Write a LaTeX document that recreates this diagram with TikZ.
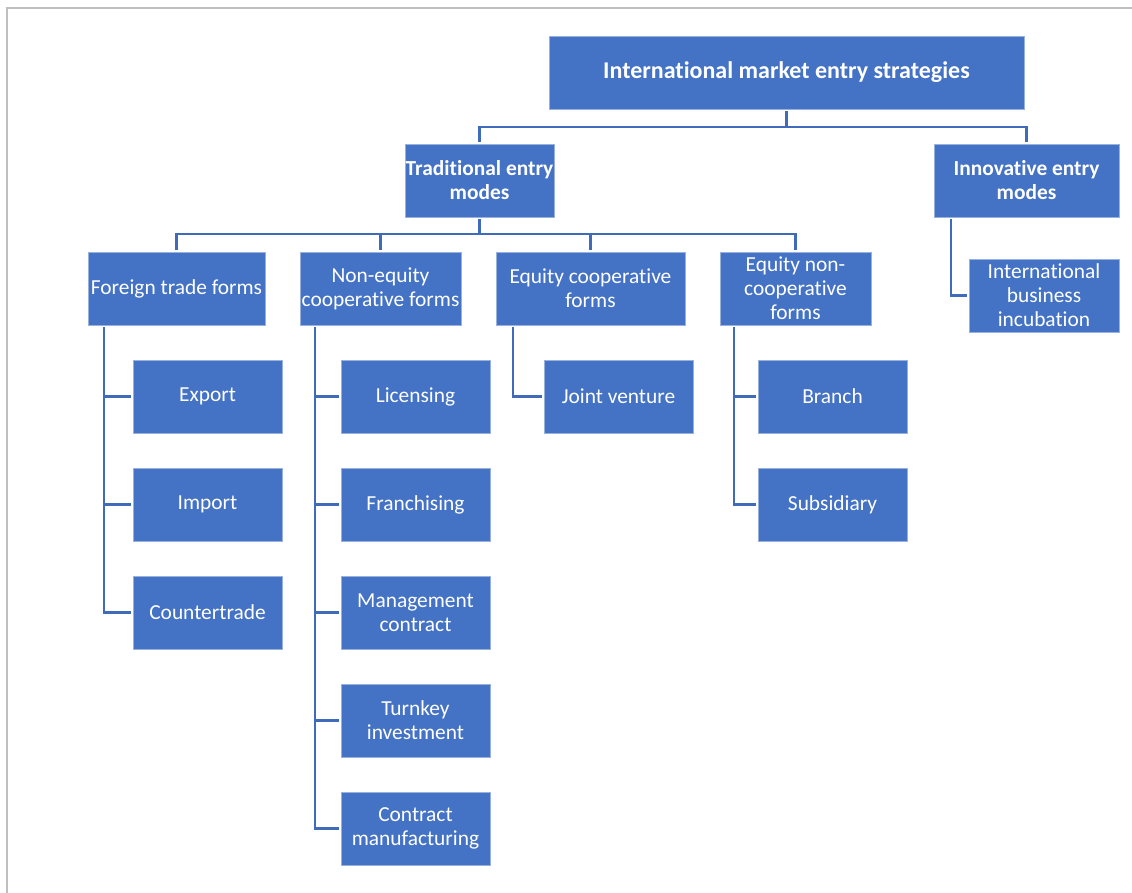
\documentclass[tikz,border=0pt]{standalone}
\usepackage{fontspec}
\setmainfont{Carlito}[Ligatures={NoCommon}]
\definecolor{boxblue}{HTML}{4472C4}
\definecolor{lineblue}{HTML}{3F6BBA}
\definecolor{framegray}{HTML}{BFBFBF}
\begin{document}
\begin{tikzpicture}[x=1pt,y=-1pt,
  box/.style={fill=boxblue, draw=boxblue!55!white, line width=0.7pt, text=white,
    align=center, minimum height=73pt, inner sep=0pt,
    font=\fontsize{21.4}{24}\selectfont},
  head/.style={box, font=\fontsize{21.4}{24}\selectfont\bfseries},
  leaf/.style={box, minimum width=149pt},
  conn/.style={draw=lineblue, line width=2.2pt, line cap=rect}]
\useasboundingbox (0,0) rectangle (1132,893);
% page frame
\draw[framegray, line width=2.5pt] (7,893) -- (7,8) -- (1132,8);

% top levels
\node[head, minimum width=475pt, font=\fontsize{24}{28}\selectfont\bfseries] (root) at (786.5,72.5) {International market entry strategies};
\node[head, minimum width=149pt] (trad) at (479.5,180.5) {Traditional entry\\modes};
\node[head, minimum width=185pt] (innov) at (1026.5,180.5) {Innovative entry\\modes};

% form groups
\node[box, minimum width=177pt] (ftf) at (176.5,288.5) {Foreign trade forms};
\node[box, minimum width=161pt] (neq) at (380.5,288.5) {Non-equity\\cooperative forms};
\node[box, minimum width=189pt] (eqc) at (590.5,288.5) {Equity cooperative\\forms};
\node[box, minimum width=151pt] (eqn) at (795.5,288.5) {Equity non-\\cooperative\\forms};
\node[box, minimum width=150pt] (incub) at (1044,295.5) {International\\business\\incubation};

% foreign trade
\node[leaf] (export) at (207.5,396.5) {Export};
\node[leaf] (import) at (207.5,504.5) {Import};
\node[leaf] (cntr) at (207.5,612.5) {Countertrade};
% non-equity
\node[leaf] (lic) at (415.5,396.5) {Licensing};
\node[leaf] (fran) at (415.5,504.5) {Franchising};
\node[leaf] (mgmt) at (415.5,612.5) {Management\\contract};
\node[leaf] (turn) at (415.5,720.5) {Turnkey\\investment};
\node[leaf] (cman) at (415.5,828.5) {Contract\\manufacturing};
% equity cooperative
\node[leaf] (jv) at (618.5,396.5) {Joint venture};
% equity non-cooperative
\node[leaf] (branch) at (832.5,396.5) {Branch};
\node[leaf] (subs) at (832.5,504.5) {Subsidiary};

% connectors: root level
\coordinate (busA) at (0,127);
\draw[conn] ([yshift=-3pt]root.south) -- (root.south |- busA);
\draw[conn] ([yshift=3pt]trad.north) |- (innov.north |- busA) -- ([yshift=3pt]innov.north);

% connectors: traditional modes
\coordinate (busB) at (0,234);
\draw[conn] ([yshift=-3pt]trad.south) -- (trad.south |- busB);
\draw[conn] ([yshift=3pt]ftf.north) |- (eqn.north |- busB) -- ([yshift=3pt]eqn.north);
\draw[conn] (neq.north |- busB) -- ([yshift=3pt]neq.north);
\draw[conn] (eqc.north |- busB) -- ([yshift=3pt]eqc.north);

% connectors: innovative modes
\draw[conn] ([xshift=17pt,yshift=-3pt]innov.south west) |- ([xshift=-3pt]incub.west);

% connectors: leaves
\foreach \c in {export,import,cntr}
  \draw[conn] ([xshift=16pt,yshift=-3pt]ftf.south west) |- ([xshift=-3pt]\c.west);
\foreach \c in {lic,fran,mgmt,turn,cman}
  \draw[conn] ([xshift=15pt,yshift=-3pt]neq.south west) |- ([xshift=-3pt]\c.west);
\draw[conn] ([xshift=17pt,yshift=-3pt]eqc.south west) |- ([xshift=-3pt]jv.west);
\foreach \c in {branch,subs}
  \draw[conn] ([xshift=14pt,yshift=-3pt]eqn.south west) |- ([xshift=-3pt]\c.west);
\end{tikzpicture}
\end{document}
